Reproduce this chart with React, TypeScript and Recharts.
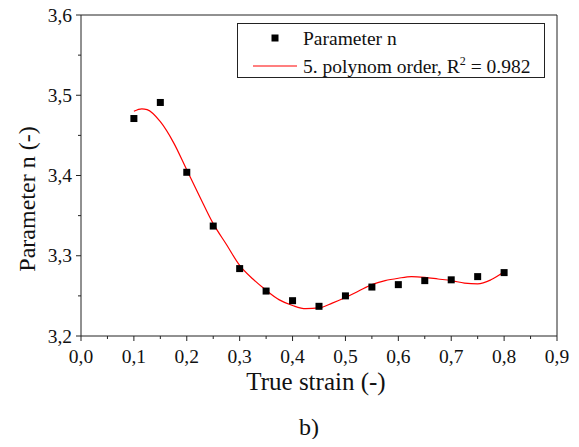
import { ComposedChart, Scatter, Line, XAxis, YAxis, Legend, Label } from "recharts";

const strain = [0.1, 0.15, 0.2, 0.25, 0.3, 0.35, 0.4, 0.45, 0.5, 0.55, 0.6, 0.65, 0.7, 0.75, 0.8];
const paramN = [3.471, 3.491, 3.404, 3.337, 3.284, 3.256, 3.244, 3.237, 3.25, 3.261, 3.264, 3.269, 3.27, 3.274, 3.279];

// fitted curve
const fitStrain = [
  0.1, 0.115, 0.125, 0.15, 0.175, 0.2, 0.225, 0.25, 0.275, 0.3, 0.325, 0.35, 0.375, 0.4, 0.425, 0.45,
  0.475, 0.5, 0.525, 0.55, 0.575, 0.6, 0.625, 0.65, 0.675, 0.7, 0.725, 0.75, 0.775, 0.8,
];
const fitN = [
  3.48, 3.483, 3.482, 3.467, 3.441, 3.407, 3.373, 3.34, 3.314, 3.288, 3.271, 3.257, 3.245, 3.238, 3.234, 3.235,
  3.241, 3.248, 3.256, 3.264, 3.269, 3.272, 3.274, 3.273, 3.271, 3.269, 3.266, 3.265, 3.27, 3.28,
];

const xTicks = [0, 0.05, 0.1, 0.15, 0.2, 0.25, 0.3, 0.35, 0.4, 0.45, 0.5, 0.55, 0.6, 0.65, 0.7, 0.75, 0.8, 0.85, 0.9];
const yTicks = [3.2, 3.25, 3.3, 3.35, 3.4, 3.45, 3.5, 3.55, 3.6];

const pointsName = "Parameter n";
const fitName = "5. polynom order, R";

const points = strain.map((x, i) => ({ x, y: paramN[i] }));
const fit = fitStrain.map((x, i) => ({ x, y: fitN[i] }));

const serif = { fontFamily: '"Liberation Serif", "Times New Roman", serif' };
const ink = "#222";

const isMajor = (v: number) => Math.round(v * 100) % 10 === 0;
const fmt = (v: number) => v.toFixed(1).replace(".", ",");

const HTick = (props: any) => {
  const { x, y, payload, dir, showLabel } = props;
  const major = isMajor(payload.value);
  return (
    <g>
      <line x1={x} x2={x} y1={y} y2={y + dir * (major ? 5 : 3)} stroke={ink} />
      {showLabel && major && (
        <text x={x} y={y + 27} textAnchor="middle" style={serif} fontSize={19.5} fill="#111">
          {fmt(payload.value)}
        </text>
      )}
    </g>
  );
};

const VTick = (props: any) => {
  const { x, y, payload, dir, showLabel } = props;
  const major = isMajor(payload.value - 3);
  return (
    <g>
      <line x1={x} x2={x + dir * (major ? 5 : 3)} y1={y} y2={y} stroke={ink} />
      {showLabel && major && (
        <text x={x - 9} y={y + 6.5} textAnchor="end" style={serif} fontSize={19.5} fill="#111">
          {fmt(payload.value)}
        </text>
      )}
    </g>
  );
};

const LegendBox = () => (
  <svg width={308} height={55} style={{ display: "block" }}>
    <rect x={0.5} y={0.5} width={307} height={54} fill="#fff" stroke={ink} />
    <rect x={34.5} y={11.5} width={7} height={7} fill="#000" />
    <text x={66} y={22} style={serif} fontSize={19.5} fill="#111">
      {pointsName}
    </text>
    <line x1={16} x2={60} y1={43} y2={43} stroke="#ff0000" strokeWidth={1.2} />
    <text x={66} y={50} style={serif} fontSize={19.5} fill="#111">
      {fitName}
      <tspan dy={-8} fontSize={12}>2</tspan>
      <tspan dy={8}> = 0.982</tspan>
    </text>
  </svg>
);

export default function App() {
  return (
    <div style={{ position: "relative", width: 579, height: 447, margin: -8, ...serif }}>
      <ComposedChart width={579} height={447} margin={{ top: 0, right: 0, bottom: 81, left: 0 }}>
        <XAxis
          xAxisId="b"
          dataKey="x"
          type="number"
          domain={[0, 0.9]}
          ticks={xTicks}
          interval={0}
          height={30}
          tickSize={0}
          tickMargin={0}
          tickLine={false}
          axisLine={{ stroke: ink }}
          tick={(p: any) => <HTick {...p} dir={1} showLabel />}
        >
          <Label
            content={() => (
              <text x={316} y={390} textAnchor="middle" style={serif} fontSize={25} fill="#111">
                True strain (-)
              </text>
            )}
          />
          <Label
            content={() => (
              <text x={309} y={435} textAnchor="middle" style={serif} fontSize={24} fill="#111">
                b)
              </text>
            )}
          />
        </XAxis>
        <XAxis
          xAxisId="t"
          orientation="top"
          dataKey="x"
          type="number"
          domain={[0, 0.9]}
          ticks={xTicks}
          interval={0}
          height={15}
          tickSize={0}
          tickMargin={0}
          tickLine={false}
          axisLine={{ stroke: ink }}
          tick={(p: any) => <HTick {...p} dir={-1} />}
        />
        <YAxis
          yAxisId="l"
          dataKey="y"
          type="number"
          domain={[3.2, 3.6]}
          ticks={yTicks}
          interval={0}
          width={81}
          tickSize={0}
          tickMargin={0}
          tickLine={false}
          axisLine={{ stroke: ink }}
          tick={(p: any) => <VTick {...p} dir={-1} showLabel />}
        >
          <Label
            content={() => (
              <text
                x={27}
                y={199}
                transform="rotate(-90, 27, 199)"
                textAnchor="middle"
                dominantBaseline="central"
                style={serif}
                fontSize={24}
                fill="#111"
              >
                Parameter n (-)
              </text>
            )}
          />
        </YAxis>
        <YAxis
          yAxisId="r"
          orientation="right"
          type="number"
          domain={[3.2, 3.6]}
          ticks={yTicks}
          interval={0}
          width={22}
          tickSize={0}
          tickMargin={0}
          tickLine={false}
          axisLine={{ stroke: ink }}
          tick={(p: any) => <VTick {...p} dir={1} />}
        />
        <Line
          xAxisId="b"
          yAxisId="l"
          data={fit}
          dataKey="y"
          name={fitName}
          type="monotone"
          stroke="#ff0000"
          strokeWidth={1.2}
          dot={false}
          activeDot={false}
          isAnimationActive={false}
        />
        <Scatter
          xAxisId="b"
          yAxisId="l"
          data={points}
          dataKey="y"
          name={pointsName}
          fill="#000"
          isAnimationActive={false}
          shape={(p: any) => <rect x={p.cx - 3.5} y={p.cy - 3.5} width={7} height={7} fill="#000" />}
        />
        <Legend
          layout="vertical"
          align="center"
          verticalAlign="middle"
          wrapperStyle={{ left: 237, top: 23, width: 308, height: 55 }}
          content={() => <LegendBox />}
        />
      </ComposedChart>
    </div>
  );
}
